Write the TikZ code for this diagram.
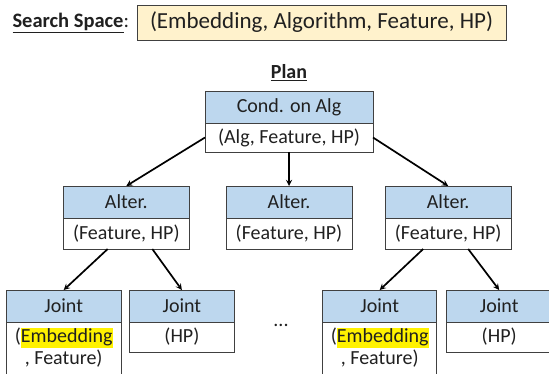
\documentclass[tikz,border=0pt]{standalone}
\usepackage{fontspec}
\setmainfont{Carlito}
\usepackage{tikz}
\usetikzlibrary{positioning, arrows}
\definecolor{hdblue}{HTML}{BDD7EE}
\definecolor{spaceyel}{HTML}{FFF2CC}
\definecolor{boxline}{HTML}{404040}
\definecolor{txtgray}{HTML}{202020}
\newcommand{\hlword}[1]{{\setlength{\fboxsep}{0pt}\colorbox{yellow}{\rule[-0.25em]{0pt}{0.98em}#1}}}

\begin{document}
\begin{tikzpicture}[x=1pt, y=1pt,
    font=\fontsize{20}{22}\selectfont, text=txtgray,
    hd/.style={draw=boxline, line width=0.9pt, fill=hdblue, minimum width=#1, minimum height=32pt, inner sep=0pt, outer sep=0pt},
    bd/.style={draw=boxline, line width=0.9pt, fill=white, minimum width=#1, minimum height=30pt, inner sep=0pt, outer sep=0pt, align=center},
    arr/.style={-stealth, line width=1.7pt, black}]
    \useasboundingbox (0,0) rectangle (549,-374);
    \clip (0,0) rectangle (549,-373.4);
    % search space
    \node[anchor=west, font=\fontsize{20.5}{24}\selectfont] (sslbl) at (9,-23) {\textbf{\underline{Search Space}}:};
    \node[draw=boxline, line width=0.9pt, fill=spaceyel, minimum width=369pt, minimum height=35pt, inner sep=0pt, font=\fontsize{23}{26}\selectfont] (ss) at (321.5,-22.5) {(Embedding, Algorithm, Feature, HP)};
    \node (plan) at (289,-73) {\textbf{\underline{Plan}}};
    % root
    \node[hd=168pt] (rh) at (289,-107) {Cond. on Alg};
    \node[bd=168pt, minimum height=29pt, below=0pt of rh] (rb) {(Alg, Feature, HP)};
    % second level
    \node[hd=126pt] (a1h) at (126.3,-202) {Alter.};
    \node[bd=126pt, minimum height=31pt, below=0pt of a1h] (a1b) {(Feature, HP)};
    \node[hd=126pt] (a2h) at (289,-202) {Alter.};
    \node[bd=126pt, minimum height=31pt, below=0pt of a2h] (a2b) {(Feature, HP)};
    \node[hd=126pt] (a3h) at (448.2,-202) {Alter.};
    \node[bd=126pt, minimum height=31pt, below=0pt of a3h] (a3b) {(Feature, HP)};
    % third level
    \node[hd=115pt] (j1h) at (63.7,-306) {Joint};
    \node[bd=115pt, minimum height=52pt, below=0pt of j1h] (j1b) {(\hlword{Embedding}\\, Feature)};
    \node[hd=105pt] (j2h) at (181.9,-306) {Joint};
    \node[bd=105pt, below=0pt of j2h] (j2b) {(HP)};
    \node (dots) at (281,-325) {...};
    \node[hd=114pt] (j3h) at (379.7,-306) {Joint};
    \node[bd=114pt, minimum height=52pt, below=0pt of j3h] (j3b) {(\hlword{Embedding}\\, Feature)};
    \node[hd=105pt] (j4h) at (499.2,-306) {Joint};
    \node[bd=105pt, below=0pt of j4h] (j4b) {(HP)};
    \path[arr]
        (rb.west) edge (a1h.north)
        (rb.south) edge (a2h.north)
        (rb.east) edge (a3h.north)
        ([xshift=-18.6pt]a1b.south) edge (j1h.north)
        ([xshift=26pt]a1b.south) edge (j2h.north)
        ([xshift=-25pt]a3b.south) edge (j3h.north)
        ([xshift=20pt]a3b.south) edge (j4h.north);
\end{tikzpicture}
\end{document}
